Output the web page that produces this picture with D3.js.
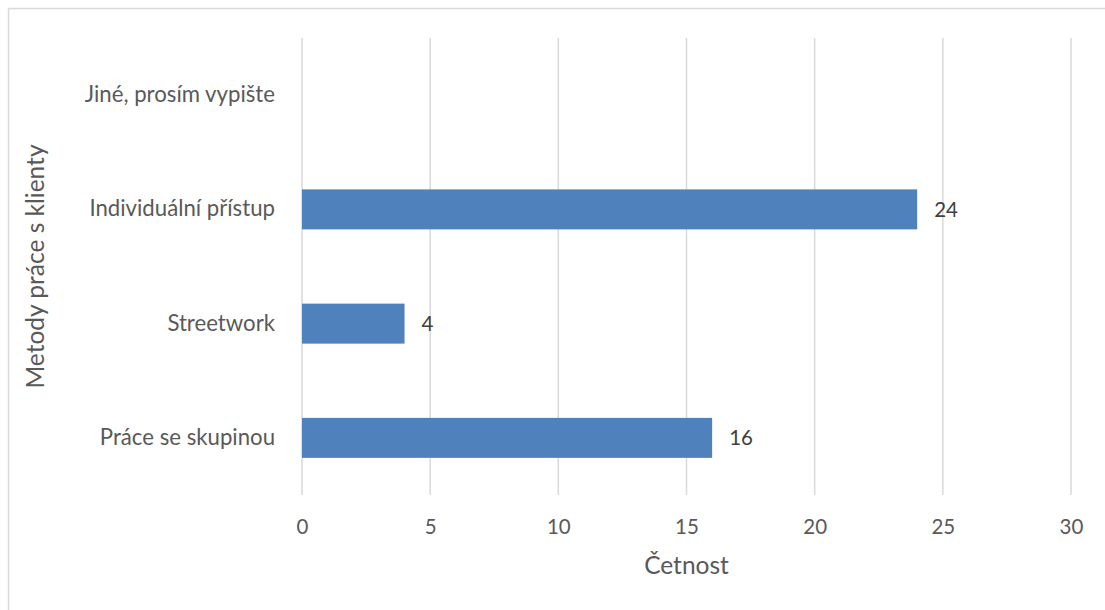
<!DOCTYPE html>
<html>
<head>
<meta charset="utf-8">
<script src="https://cdn.jsdelivr.net/npm/d3@7"></script>
<style>
  html, body { margin: 0; padding: 0; background: #fff; }
  svg { display: block; font-family: Lato, "Open Sans", sans-serif; }
</style>
</head>
<body>
<svg id="chart" width="1105" height="610"></svg>
<script>
// Methods of work with clients – counts
const categories = ["Jiné, prosím vypište", "Individuální přístup", "Streetwork", "Práce se skupinou"];
const counts = [null, 24, 4, 16];
const xTicks = [0, 5, 10, 15, 20, 25, 30];
const xTitle = "Četnost";
const yTitle = "Metody práce s klienty";

const svg = d3.select("#chart");
const textColor = "#595959";
const gridColor = "#d9d9d9";
const barColor = "#4f81bd";
const font = "Lato, 'Open Sans', sans-serif";

const plot = { left: 302, right: 1071, top: 38, bottom: 495 };

// Chart area frame
svg.append("rect")
  .attr("x", 8.5).attr("y", 8.5)
  .attr("width", 1120).attr("height", 640)
  .attr("fill", "none").attr("stroke", gridColor).attr("stroke-width", 1.5);

const x = d3.scaleLinear().domain([0, 30]).range([plot.left, plot.right]);
const y = d3.scaleBand().domain(categories)
  .range([plot.top, plot.bottom])
  .paddingInner(0.65).paddingOuter(0.325);

// Vertical gridlines
svg.append("g").selectAll("line").data(xTicks).join("line")
  .attr("x1", d => x(d)).attr("x2", d => x(d))
  .attr("y1", plot.top).attr("y2", plot.bottom)
  .attr("stroke", gridColor).attr("stroke-width", 1.5);

// X axis tick labels
const xAxis = d3.axisBottom(x).tickValues(xTicks).tickSize(0).tickPadding(0);
const gx = svg.append("g").attr("transform", `translate(0,${plot.bottom + 32})`).call(xAxis);
gx.select(".domain").remove();
gx.selectAll("text").attr("fill", textColor).attr("font-size", 20.5)
  .attr("dy", "0.35em").attr("font-family", font);

// Y axis category labels
const yAxis = d3.axisLeft(y).tickSize(0).tickPadding(0);
const gy = svg.append("g").attr("transform", `translate(${plot.left - 27},0)`).call(yAxis);
gy.select(".domain").remove();
gy.selectAll("text").attr("fill", textColor).attr("font-size", 22.2)
  .attr("font-family", font);

// Bars
const rows = categories.map((c, i) => ({ c, v: counts[i] })).filter(d => d.v != null);
svg.append("g").selectAll("rect").data(rows).join("rect")
  .attr("x", x(0))
  .attr("y", d => y(d.c))
  .attr("width", d => x(d.v) - x(0))
  .attr("height", y.bandwidth())
  .attr("fill", barColor);

// Value labels
svg.append("g").selectAll("text").data(rows).join("text")
  .attr("x", d => x(d.v) + 17)
  .attr("y", d => y(d.c) + y.bandwidth() / 2)
  .attr("dy", "0.35em")
  .attr("fill", "#404040").attr("font-size", 20.5)
  .text(d => d.v);

// Axis titles
svg.append("text")
  .attr("x", (plot.left + plot.right) / 2).attr("y", 565)
  .attr("dy", "0.35em").attr("text-anchor", "middle")
  .attr("fill", textColor).attr("font-size", 24.5)
  .text(xTitle);

svg.append("text")
  .attr("transform", `translate(35,${(plot.top + plot.bottom) / 2}) rotate(-90)`)
  .attr("dy", "0.35em").attr("text-anchor", "middle")
  .attr("fill", textColor).attr("font-size", 24.5)
  .text(yTitle);
</script>
</body>
</html>
